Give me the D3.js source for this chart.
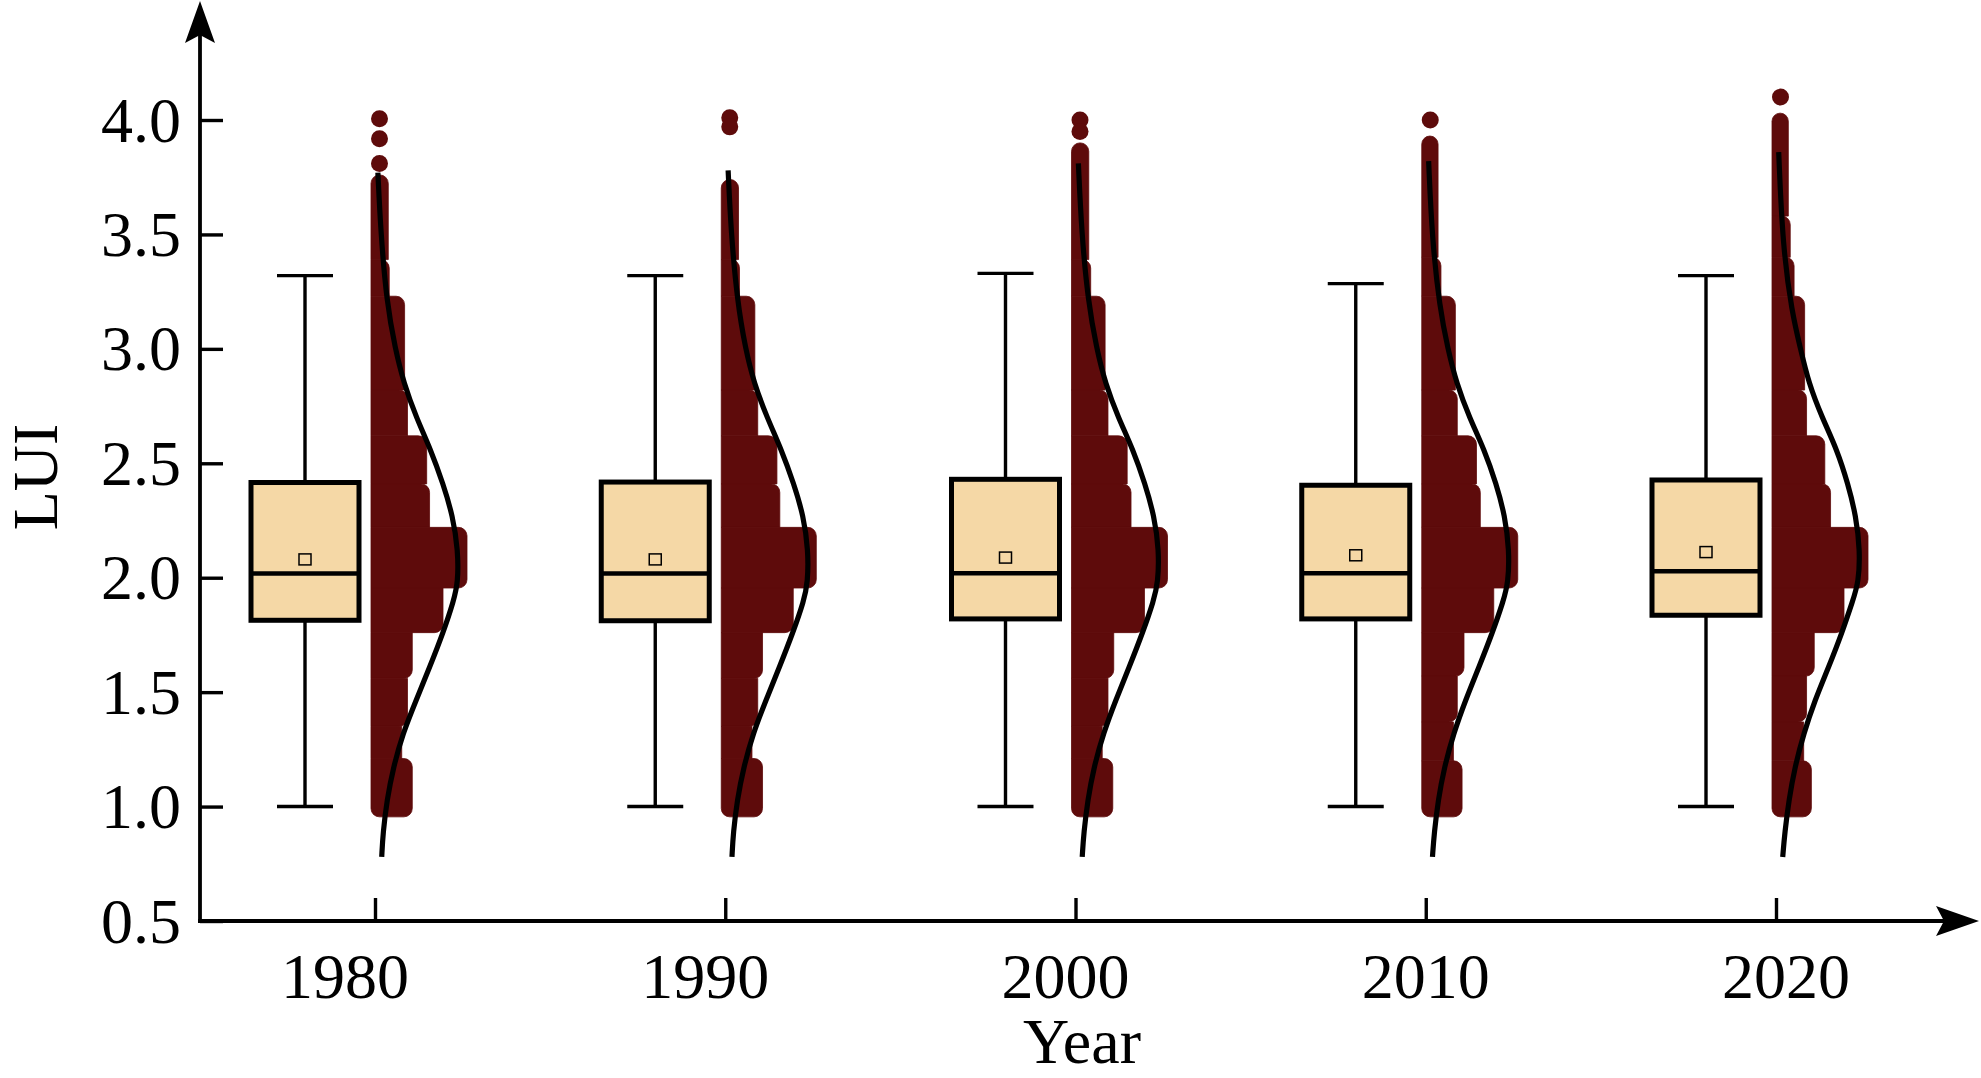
<!DOCTYPE html>
<html>
<head>
<meta charset="utf-8">
<script src="https://cdn.jsdelivr.net/npm/d3@7"></script>
<style>
  html, body { margin: 0; padding: 0; background: #ffffff; }
  svg { display: block; }
  text { font-family: "Liberation Serif", "Times New Roman", serif; fill: #000; }
</style>
</head>
<body>
<svg id="chart" width="1981" height="1078"></svg>
<script>
// ---------------- data ----------------
const years = [1980, 1990, 2000, 2010, 2020];
const yTickValues = [0.5, 1.0, 1.5, 2.0, 2.5, 3.0, 3.5, 4.0];
const xAxisTitle = "Year";
const yAxisTitle = "LUI";

// box statistics per year
const whiskerLow  = [1.00, 1.00, 1.00, 1.00, 1.00];
const q1Values    = [1.814, 1.812, 1.820, 1.820, 1.836];
const medians     = [2.018, 2.018, 2.020, 2.020, 2.028];
const means       = [2.080, 2.080, 2.088, 2.098, 2.112];
const q3Values    = [2.416, 2.418, 2.430, 2.404, 2.427];
const whiskerHigh = [3.320, 3.320, 3.330, 3.285, 3.320];

// histogram bins per year, top to bottom: [low, high, relative count]
const hist1980 = [[3.39,3.76,18],[3.23,3.39,19],[2.82,3.23,35],[2.62,2.82,38],[2.41,2.62,58],[2.22,2.41,61],[1.955,2.22,100],[1.76,1.955,75],[1.56,1.76,43],[1.35,1.56,38],[1.21,1.35,32],[0.955,1.21,43]];
const hist1990 = [[3.39,3.74,18],[3.23,3.39,19],[2.82,3.23,35],[2.62,2.82,38],[2.41,2.62,58],[2.22,2.41,61],[1.955,2.22,99],[1.76,1.955,75],[1.56,1.76,43],[1.35,1.56,38],[1.21,1.35,32],[0.955,1.21,43]];
const hist2000 = [[3.39,3.90,18],[3.23,3.39,20],[2.82,3.23,35],[2.62,2.82,38],[2.41,2.62,58],[2.22,2.41,62],[1.955,2.22,100],[1.76,1.955,76],[1.56,1.76,44],[1.35,1.56,38],[1.21,1.35,32],[0.955,1.21,43]];
const hist2010 = [[3.40,3.93,17],[3.23,3.40,20],[2.82,3.23,35],[2.62,2.82,37],[2.41,2.62,57],[2.22,2.41,61],[1.955,2.22,100],[1.76,1.955,75],[1.57,1.76,44],[1.37,1.57,37],[1.20,1.37,33],[0.955,1.20,42]];
const hist2020 = [[3.58,4.03,17],[3.40,3.58,19],[3.23,3.40,23],[2.82,3.23,34],[2.62,2.82,36],[2.41,2.62,55],[2.22,2.41,61],[1.955,2.22,100],[1.76,1.955,75],[1.57,1.76,44],[1.37,1.57,36],[1.20,1.37,33],[0.955,1.20,41]];
const histograms = [hist1980, hist1990, hist2000, hist2010, hist2020];

// isolated high values shown as single dots
const dots1980 = [4.005, 3.918, 3.81];
const dots1990 = [4.01, 3.97];
const dots2000 = [4.00, 3.95];
const dots2010 = [4.00];
const dots2020 = [4.10];
const dotSets = [dots1980, dots1990, dots2000, dots2010, dots2020];

// fitted distribution curves: [LUI, relative density]
const curve1980 = [[3.77,3],[3.51,6],[3.21,12],[3.0,21],[2.85,30],[2.70,43],[2.56,58],[2.41,71],[2.27,81],[2.12,86.5],[1.98,86.5],[1.90,82],[1.76,71],[1.61,57],[1.466,43],[1.32,29],[1.17,19],[1.03,12.5],[0.885,8.3],[0.78,7]];
const curve1990 = [[3.78,3],[3.51,6],[3.21,12.5],[3.0,21],[2.85,30],[2.70,43.5],[2.56,58.5],[2.41,71.5],[2.27,81.5],[2.12,86.5],[1.98,86],[1.90,82],[1.76,70.5],[1.61,56.5],[1.466,42.5],[1.32,29],[1.17,19],[1.03,12.5],[0.885,8.3],[0.78,7]];
const curve2000 = [[3.81,3],[3.51,6.3],[3.21,13],[3.0,22],[2.85,31],[2.70,44.5],[2.56,60],[2.41,72.5],[2.27,82],[2.12,87],[1.98,86],[1.90,81.5],[1.76,70],[1.61,56],[1.466,42],[1.32,29],[1.17,19],[1.03,12.8],[0.885,8.6],[0.78,7]];
const curve2010 = [[3.82,3],[3.48,6.6],[3.18,14.5],[3.0,23],[2.85,32],[2.70,45.5],[2.56,61],[2.41,73.5],[2.27,82.5],[2.12,87],[1.98,86],[1.90,81],[1.76,69.5],[1.61,55.5],[1.466,41.5],[1.32,29],[1.17,19.2],[1.03,13],[0.885,8.8],[0.78,7]];
const curve2020 = [[3.86,2.8],[3.446,7],[3.157,16.7],[3.01,25],[2.85,34],[2.70,48],[2.56,63.5],[2.41,75],[2.27,83.3],[2.12,87.5],[1.98,86.1],[1.90,80],[1.76,68.8],[1.61,54.9],[1.466,40.6],[1.32,28.9],[1.17,19.5],[1.03,13.5],[0.885,9.1],[0.78,7]];
const curves = [curve1980, curve1990, curve2000, curve2010, curve2020];

// ---------------- layout ----------------
const axisX = 200, axisY = 921;
const colors = { box: "#F5D8A6", hist: "#5E0B0B", ink: "#000000" };

const svg = d3.select("#chart");

const y = d3.scaleLinear().domain([0.5, 4.0]).range([axisY, 120]);
const xTick = d3.scaleLinear().domain([1980, 2020]).range([375, 1776]);
const xLabel = d3.scaleLinear().domain([1980, 2020]).range([345, 1786]);
const dens = d3.scaleLinear().domain([0, 100]).range([0, 96]);

const boxOffset = -70, boxW = 108, capHalf = 28, histOffset = -4, dotR = 8.5;

// outline of one bin, rounding only the exposed corners (dot ends)
function binPath(x0, w, yt, yb, wAbove, wBelow, first, last) {
  const xr = x0 + w;
  const r = Math.min(dotR, (yb - yt) / 2, w / 2);
  const tr = (wAbove === undefined || wAbove < w) ? r : 0;
  const br = (wBelow === undefined || wBelow < w) ? r : 0;
  const tl = first ? r : 0;
  const bl = last ? r : 0;
  const p = d3.path();
  p.moveTo(x0, yt + tl);
  if (tl) p.arcTo(x0, yt, x0 + tl, yt, tl);
  p.lineTo(xr - tr, yt);
  if (tr) p.arcTo(xr, yt, xr, yt + tr, tr);
  p.lineTo(xr, yb - br);
  if (br) p.arcTo(xr, yb, xr - br, yb, br);
  p.lineTo(x0 + bl, yb);
  if (bl) p.arcTo(x0, yb, x0, yb - bl, bl);
  p.closePath();
  return p.toString();
}

// ---------------- histograms (dot plots) ----------------
years.forEach((yr, i) => {
  const g = svg.append("g").attr("class", "hist");
  const x0 = xTick(yr) + histOffset;
  const bins = histograms[i];
  g.selectAll("path").data(bins).join("path")
    .attr("d", (d, k) => binPath(
      x0, dens(d[2]), y(d[1]), y(d[0]),
      k > 0 ? dens(bins[k - 1][2]) : undefined,
      k < bins.length - 1 ? dens(bins[k + 1][2]) : undefined,
      k === 0, k === bins.length - 1))
    .attr("fill", colors.hist)
    .attr("stroke", colors.hist).attr("stroke-width", 0.8);
  g.selectAll("circle").data(dotSets[i]).join("circle")
    .attr("cx", x0 + dotR).attr("cy", d => y(d)).attr("r", dotR)
    .attr("fill", colors.hist);
});

// ---------------- curves ----------------
years.forEach((yr, i) => {
  const base = xTick(yr);
  const line = d3.line()
    .x(d => base + dens(d[1]))
    .y(d => y(d[0]))
    .curve(d3.curveBasis);
  svg.append("path").datum(curves[i]).attr("d", line)
    .attr("fill", "none").attr("stroke", colors.ink).attr("stroke-width", 5.2)
    .attr("stroke-linecap", "butt");
});

// ---------------- boxes ----------------
years.forEach((yr, i) => {
  const cx = xTick(yr) + boxOffset;
  const g = svg.append("g").attr("class", "box");
  g.append("line").attr("x1", cx).attr("x2", cx)
    .attr("y1", y(whiskerHigh[i])).attr("y2", y(q3Values[i]))
    .attr("stroke", colors.ink).attr("stroke-width", 3.4);
  g.append("line").attr("x1", cx).attr("x2", cx)
    .attr("y1", y(q1Values[i])).attr("y2", y(whiskerLow[i]))
    .attr("stroke", colors.ink).attr("stroke-width", 3.4);
  [whiskerHigh[i], whiskerLow[i]].forEach(v => {
    g.append("line").attr("x1", cx - capHalf).attr("x2", cx + capHalf)
      .attr("y1", y(v)).attr("y2", y(v))
      .attr("stroke", colors.ink).attr("stroke-width", 3.4);
  });
  g.append("rect").attr("x", cx - boxW / 2).attr("y", y(q3Values[i]))
    .attr("width", boxW).attr("height", y(q1Values[i]) - y(q3Values[i]))
    .attr("fill", colors.box).attr("stroke", colors.ink).attr("stroke-width", 5);
  g.append("line").attr("x1", cx - boxW / 2).attr("x2", cx + boxW / 2)
    .attr("y1", y(medians[i])).attr("y2", y(medians[i]))
    .attr("stroke", colors.ink).attr("stroke-width", 4.5);
  g.append("rect").attr("x", cx - 6).attr("y", y(means[i]) - 5.5)
    .attr("width", 12).attr("height", 11)
    .attr("fill", colors.box).attr("stroke", colors.ink).attr("stroke-width", 1.5);
});

// ---------------- axes ----------------
const yAxis = d3.axisLeft(y).tickValues(yTickValues)
  .tickFormat(d3.format(".1f")).tickSize(-23).tickPadding(19);
const gy = svg.append("g").attr("transform", `translate(${axisX},0)`).call(yAxis);
gy.select(".domain").remove();
gy.selectAll(".tick line").attr("stroke", colors.ink).attr("stroke-width", 3.4);
gy.selectAll(".tick text").attr("font-size", 64)
  .attr("font-family", "Liberation Serif, Times New Roman, serif").attr("dy", "0.33em");

const xAxis = d3.axisBottom(xTick).tickValues(years).tickSize(-23).tickFormat("");
const gx = svg.append("g").attr("transform", `translate(0,${axisY})`).call(xAxis);
gx.select(".domain").remove();
gx.selectAll(".tick line").attr("stroke", colors.ink).attr("stroke-width", 3.4);

svg.append("g").selectAll("text").data(years).join("text")
  .attr("x", d => xLabel(d)).attr("y", 998)
  .attr("text-anchor", "middle").attr("font-size", 64)
  .text(d => d);

// axis lines with arrows
svg.append("line").attr("x1", axisX).attr("x2", axisX).attr("y1", axisY + 1.9).attr("y2", 30)
  .attr("stroke", colors.ink).attr("stroke-width", 3.8);
svg.append("line").attr("x1", axisX - 1.9).attr("x2", 1945).attr("y1", axisY).attr("y2", axisY)
  .attr("stroke", colors.ink).attr("stroke-width", 3.8);
svg.append("path").attr("d", `M${axisX},1 L${axisX - 15},43 L${axisX},35 L${axisX + 15},43 Z`)
  .attr("fill", colors.ink);
svg.append("path").attr("d", `M1979,${axisY} L1936,${axisY - 15} L1944,${axisY} L1936,${axisY + 15} Z`)
  .attr("fill", colors.ink);

// titles
svg.append("text").attr("x", 1082).attr("y", 1063).attr("text-anchor", "middle")
  .attr("font-size", 64).text(xAxisTitle);
svg.append("text").attr("transform", `translate(57,${477}) rotate(-90)`)
  .attr("text-anchor", "middle").attr("font-size", 64).text(yAxisTitle);
</script>
</body>
</html>
